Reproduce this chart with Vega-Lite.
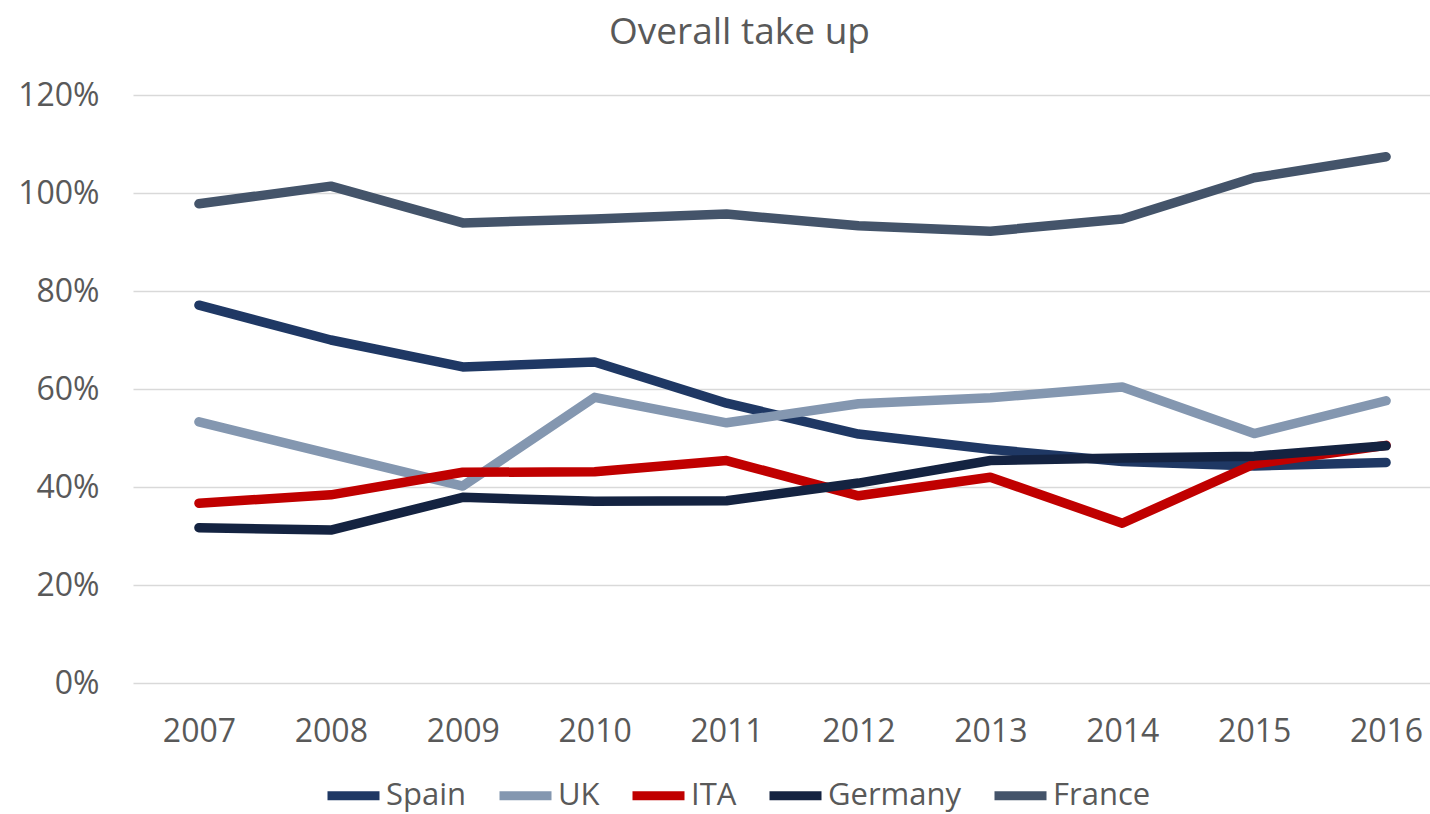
{
  "$schema": "https://vega.github.io/schema/vega-lite/v6.json",
  "width": 1297,
  "height": 588,
  "autosize": {"type": "none"},
  "padding": {"left": 133, "top": 95, "right": 0, "bottom": 131},
  "background": "white",
  "config": {
    "view": {"stroke": null},
    "font": "Open Sans"
  },
  "title": {
    "text": "Overall take up",
    "font": "Open Sans",
    "fontSize": 37,
    "fontWeight": "normal",
    "color": "#595959",
    "anchor": "middle",
    "dx": -42,
    "offset": 27
  },
  "data": {
    "values": [
      {"year": 2007, "country": "Spain", "v": 0.771},
      {"year": 2008, "country": "Spain", "v": 0.700},
      {"year": 2009, "country": "Spain", "v": 0.645},
      {"year": 2010, "country": "Spain", "v": 0.655},
      {"year": 2011, "country": "Spain", "v": 0.571},
      {"year": 2012, "country": "Spain", "v": 0.508},
      {"year": 2013, "country": "Spain", "v": 0.477},
      {"year": 2014, "country": "Spain", "v": 0.452},
      {"year": 2015, "country": "Spain", "v": 0.443},
      {"year": 2016, "country": "Spain", "v": 0.450},
      {"year": 2007, "country": "UK", "v": 0.533},
      {"year": 2008, "country": "UK", "v": 0.467},
      {"year": 2009, "country": "UK", "v": 0.402},
      {"year": 2010, "country": "UK", "v": 0.583},
      {"year": 2011, "country": "UK", "v": 0.531},
      {"year": 2012, "country": "UK", "v": 0.570},
      {"year": 2013, "country": "UK", "v": 0.582},
      {"year": 2014, "country": "UK", "v": 0.604},
      {"year": 2015, "country": "UK", "v": 0.509},
      {"year": 2016, "country": "UK", "v": 0.576},
      {"year": 2007, "country": "ITA", "v": 0.367},
      {"year": 2008, "country": "ITA", "v": 0.384},
      {"year": 2009, "country": "ITA", "v": 0.430},
      {"year": 2010, "country": "ITA", "v": 0.431},
      {"year": 2011, "country": "ITA", "v": 0.454},
      {"year": 2012, "country": "ITA", "v": 0.382},
      {"year": 2013, "country": "ITA", "v": 0.420},
      {"year": 2014, "country": "ITA", "v": 0.326},
      {"year": 2015, "country": "ITA", "v": 0.447},
      {"year": 2016, "country": "ITA", "v": 0.485},
      {"year": 2007, "country": "Germany", "v": 0.317},
      {"year": 2008, "country": "Germany", "v": 0.312},
      {"year": 2009, "country": "Germany", "v": 0.379},
      {"year": 2010, "country": "Germany", "v": 0.371},
      {"year": 2011, "country": "Germany", "v": 0.372},
      {"year": 2012, "country": "Germany", "v": 0.408},
      {"year": 2013, "country": "Germany", "v": 0.454},
      {"year": 2014, "country": "Germany", "v": 0.459},
      {"year": 2015, "country": "Germany", "v": 0.463},
      {"year": 2016, "country": "Germany", "v": 0.484},
      {"year": 2007, "country": "France", "v": 0.978},
      {"year": 2008, "country": "France", "v": 1.014},
      {"year": 2009, "country": "France", "v": 0.939},
      {"year": 2010, "country": "France", "v": 0.947},
      {"year": 2011, "country": "France", "v": 0.957},
      {"year": 2012, "country": "France", "v": 0.933},
      {"year": 2013, "country": "France", "v": 0.922},
      {"year": 2014, "country": "France", "v": 0.947},
      {"year": 2015, "country": "France", "v": 1.031},
      {"year": 2016, "country": "France", "v": 1.074}
    ]
  },
  "mark": {"type": "line", "strokeWidth": 9.5, "strokeCap": "round", "strokeJoin": "round"},
  "encoding": {
    "x": {
      "field": "year",
      "type": "quantitative",
      "scale": {"domain": [2006.5, 2016.333], "nice": false, "zero": false},
      "axis": {
        "values": [2007, 2008, 2009, 2010, 2011, 2012, 2013, 2014, 2015, 2016],
        "format": "d",
        "title": null,
        "grid": false,
        "domain": false,
        "ticks": false,
        "labelFont": "Open Sans",
        "labelFontSize": 32,
        "labelColor": "#595959",
        "labelPadding": 33,
        "labelFlush": false,
        "labelOverlap": false
      }
    },
    "y": {
      "field": "v",
      "type": "quantitative",
      "scale": {"domain": [0, 1.2], "nice": false},
      "axis": {
        "values": [0, 0.2, 0.4, 0.6, 0.8, 1.0, 1.2],
        "format": ".0%",
        "title": null,
        "domain": false,
        "ticks": false,
        "grid": true,
        "gridColor": "#D9D9D9",
        "gridWidth": 1.6,
        "labelFont": "Open Sans",
        "labelFontSize": 32,
        "labelColor": "#595959",
        "labelPadding": 34
      }
    },
    "color": {
      "field": "country",
      "type": "nominal",
      "scale": {
        "domain": ["Spain", "UK", "ITA", "Germany", "France"],
        "range": ["#1F3864", "#8497B0", "#C00000", "#142341", "#44546A"]
      },
      "legend": {
        "title": null,
        "orient": "none",
        "direction": "horizontal",
        "legendX": 190,
        "legendY": 670,
        "symbolType": "stroke",
        "symbolSize": 2704,
        "symbolStrokeWidth": 9,
        "labelFont": "Open Sans",
        "labelFontSize": 31,
        "labelColor": "#595959",
        "labelOffset": 2,
        "columnPadding": 14
      }
    }
  }
}
